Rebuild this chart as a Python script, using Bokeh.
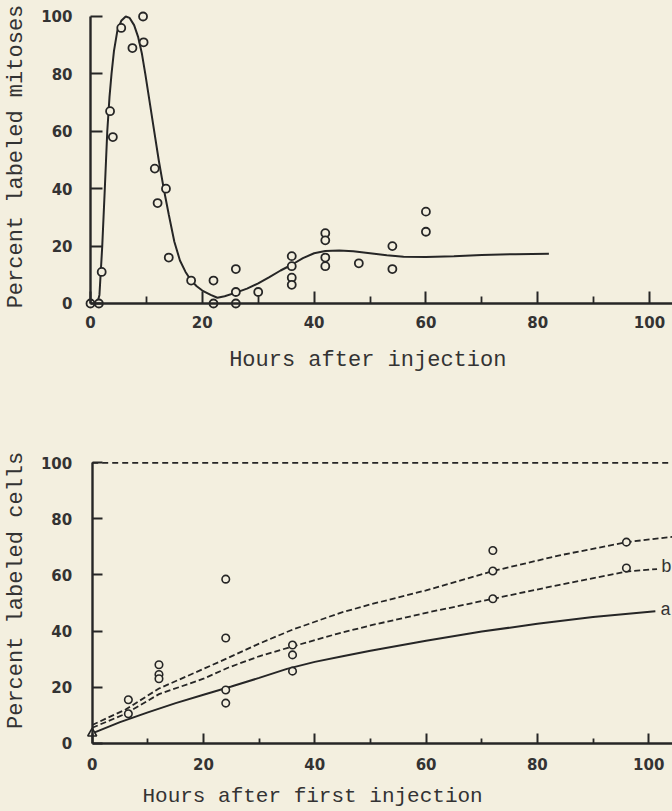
import math

from bokeh.core.properties import value
from bokeh.embed import file_html
from bokeh.layouts import column
from bokeh.models import FixedTicker, Label, Range1d
from bokeh.plotting import figure
from bokeh.resources import INLINE

PAPER = "#f3efdf"
INK = "#262626"
TEXT = "#333333"

# ---------------- upper panel: labeled mitoses ----------------
mit_hours = [0, 1.5, 2, 3.5, 4, 5.5, 7.5, 9.4, 9.5, 11.5, 12, 13.5, 14, 18,
             22, 22, 26, 26, 26, 30, 36, 36, 36, 36, 42, 42, 42, 42,
             48, 54, 54, 60, 60]
mit_pct = [0, 0, 11, 67, 58, 96, 89, 100, 91, 47, 35, 40, 16, 8,
           8, 0, 12, 4, 0, 4, 16.5, 13, 9, 6.5, 24.5, 22, 16, 13,
           14, 20, 12, 32, 25]

mit_fit_hours = [0, 1.2, 1.6, 2.1, 2.56, 3.0, 3.4, 3.76, 4.2, 4.8, 5.5, 6.3,
                 7.0, 7.8, 8.5, 9.2, 9.8, 10.6, 11.4, 12.2, 13.1, 14.0, 15.0,
                 16.0, 17.0, 18.0, 19.0, 20.0, 21.5, 22.7, 24.0, 26.0, 28.0,
                 30.0, 32.0, 34.0, 36.0, 38.0, 40.0, 42.0, 44.5, 47.0, 50.0,
                 53.0, 56.0, 60.0, 65.0, 70.0, 76.0, 82.0]
mit_fit_pct = [0, 0, 3, 20, 40, 60, 72, 80, 88, 95, 98.5, 100,
               99.5, 97, 93, 87, 80, 70, 60, 50, 40, 31, 21.5,
               15, 11, 8, 6, 4.5, 3, 2, 2.5, 3.8, 5.2,
               7, 9.2, 11.5, 13.5, 15.8, 17.5, 18.3, 18.5, 18.2, 17.5,
               16.8, 16.3, 16.2, 16.5, 16.9, 17.2, 17.3]

# ---------------- lower panel: labeled cells ----------------
cell_hours = [6.5, 6.5, 12, 12, 12, 24, 24, 24, 24, 36, 36, 36,
              72, 72, 72, 96, 96]
cell_pct = [15.5, 10.5, 28, 24.5, 23, 58.5, 37.5, 19, 14.3, 35, 31.5, 25.7,
            68.7, 61.4, 51.5, 71.7, 62.5]

start_hours = [0]
start_pct = [3.5]

curve_a_hours = [0, 5, 10, 15, 20, 25, 30, 35, 40, 45, 50, 60, 70, 80, 90, 101.2]
curve_a_pct = [3.5, 7.5, 11, 14.3, 17.3, 20.2, 23.3, 26.5, 29, 31, 33, 36.5,
               39.8, 42.6, 45, 47.1]

curve_b_hours = [0, 6, 12, 20, 24.5, 30, 36, 44, 50, 60, 72, 84, 96, 101.5]
curve_b_pct = [5.5, 10.5, 17.5, 23, 27, 31, 34.5, 39, 42, 46.5, 51.5, 56.5, 61.2, 62.1]

curve_c_hours = [0, 6, 12, 20, 24.5, 30, 36, 44.6, 50, 60, 72, 84, 96, 106]
curve_c_pct = [6.5, 12, 19.5, 26.5, 30.5, 35.5, 40.5, 46.5, 49.5, 54.5, 61.4,
               67, 71.7, 74]

ceiling_hours = [0, 106]
ceiling_pct = [100, 100]

curve_names = ["a", "b"]

x_major = [0, 20, 40, 60, 80, 100]
x_minor = [10, 30, 50, 70, 90]
y_major = [0, 20, 40, 60, 80, 100]

TICK_FONT = "DejaVu Sans"
LABEL_FONT = "Liberation Mono"


def make_panel(height, x_range, y_range, tick_in, minor_in):
    # the frame fills the whole canvas; axes are pinned to the data origin
    p = figure(width=672, height=height, output_backend="svg",
               toolbar_location=None, x_range=x_range, y_range=y_range,
               min_border=0, min_border_left=0, min_border_right=0,
               min_border_top=0, min_border_bottom=0)
    p.background_fill_color = PAPER
    p.border_fill_color = PAPER
    p.outline_line_color = None
    p.xgrid.visible = False
    p.ygrid.visible = False

    p.xaxis.ticker = FixedTicker(ticks=x_major, minor_ticks=x_minor)
    p.yaxis.ticker = FixedTicker(ticks=y_major, minor_ticks=[])
    p.xaxis.fixed_location = 0
    p.yaxis.fixed_location = 0
    p.xaxis.bounds = (0, x_range.end)
    p.yaxis.bounds = (0, 100)

    for ax in (p.xaxis, p.yaxis):
        ax.axis_line_color = INK
        ax.axis_line_width = 2.4
        ax.major_tick_line_color = INK
        ax.major_tick_line_width = 2
        ax.major_tick_in = tick_in
        ax.major_tick_out = 0
        ax.minor_tick_line_color = INK
        ax.minor_tick_line_width = 1.8
        ax.minor_tick_in = minor_in
        ax.minor_tick_out = 0
        ax.major_label_text_font = TICK_FONT
        ax.major_label_text_font_style = "bold"
        ax.major_label_text_font_size = "15px"
        ax.major_label_text_color = TEXT
    p.yaxis.minor_tick_line_color = None
    return p


def axis_text(p, x, y, text, angle=0.0, size="22px"):
    p.add_layout(Label(x=x, y=y, text=text, angle=angle,
                       text_align="center", text_baseline="middle",
                       text_font=LABEL_FONT, text_font_size=size,
                       text_color=TEXT))


# upper figure
top = make_panel(400, Range1d(-16.10, 104.11), Range1d(-33.80, 105.57), 12, 7)
top.xaxis.major_label_standoff = 13
top.yaxis.major_label_standoff = 18

top.line(mit_fit_hours, mit_fit_pct, line_color=INK, line_width=2)
top.scatter(mit_hours, mit_pct, marker="circle", size=8, line_color=INK,
            line_width=1.8, fill_color=PAPER)

axis_text(top, -13.2, 51.2, "Percent labeled mitoses", angle=math.pi / 2)
axis_text(top, 49.6, -19.7, "Hours after injection")

# lower figure
bottom = make_panel(411, Range1d(-16.478, 104.28), Range1d(-24.358, 122.22), 10, 5)
bottom.xaxis.major_label_standoff = 15
bottom.yaxis.major_label_standoff = 20

bottom.line(ceiling_hours, ceiling_pct, line_color=INK, line_width=1.8,
            line_dash="6 4")
bottom.line(curve_c_hours, curve_c_pct, line_color=INK, line_width=1.8,
            line_dash="6 3")
bottom.line(curve_b_hours, curve_b_pct, line_color=INK, line_width=1.8,
            line_dash="6 3")
bottom.line(curve_a_hours, curve_a_pct, line_color=INK, line_width=2)

bottom.scatter(cell_hours, cell_pct, marker="circle", size=7.5, line_color=INK,
               line_width=1.6, fill_color=PAPER)
bottom.scatter(start_hours, start_pct, marker="triangle", size=9, line_color=INK,
               line_width=1.6, fill_color=PAPER)

# curve letters sit just past the end of their curves
bottom.text(x=[curve_a_hours[-1], curve_b_hours[-1]],
            y=[curve_a_pct[-1], curve_b_pct[-1]],
            text=curve_names, x_offset=[5, 4], y_offset=[-1, -2],
            text_font=value(LABEL_FONT), text_font_size="18px",
            text_color=TEXT, text_baseline="middle", text_align="left")

axis_text(bottom, -13.6, 54.5, "Percent labeled cells", angle=math.pi / 2)
axis_text(bottom, 39.6, -19.0, "Hours after first injection", size="21px")

layout = column(top, bottom, spacing=0)
layout.styles = {"background-color": PAPER}

open("out.html", "w").write(file_html(layout, INLINE))
